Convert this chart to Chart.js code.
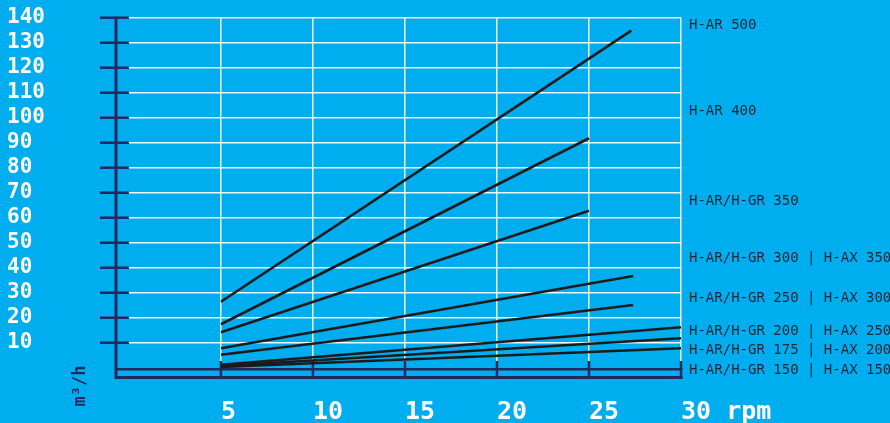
<!DOCTYPE html>
<html>
<head>
<meta charset="utf-8">
<script src="https://cdn.jsdelivr.net/npm/chart.js@4"></script>
<style>
  html, body { margin: 0; padding: 0; background: #00adef; overflow: hidden; }
  #wrap { width: 890px; height: 423px; }
</style>
</head>
<body>
<div id="wrap"><canvas id="chart" width="890" height="423"></canvas></div>
<script>
// Flow (m³/h) against speed (rpm) for each model
const models = [
    "H-AR 500",
    "H-AR 400",
    "H-AR/H-GR 350",
    "H-AR/H-GR 300 | H-AX 350",
    "H-AR/H-GR 250 | H-AX 300",
    "H-AR/H-GR 200 | H-AX 250",
    "H-AR/H-GR 175 | H-AX 200",
    "H-AR/H-GR 150 | H-AX 150"
];
const rpmStart = [5, 5, 5, 5, 5, 5, 5, 5];
const rpmEnd = [27.3, 25, 25, 27.4, 27.4, 30, 30, 30];
const flowStart = [26.4, 17.4, 14.2, 7.8, 5.2, 1.2, 0.7, 0.3];
const flowEnd = [134.8, 91.8, 62.8, 36.7, 25.1, 16.2, 11.8, 7.8];

// Where each model name sits on the right, in m³/h
const labelLevels = [137, 102.7, 66.7, 43.9, 27.8, 14.7, 7.0, -1.0];

const xTicks = [5, 10, 15, 20, 25, 30];
const yTicks = [10, 20, 30, 40, 50, 60, 70, 80, 90, 100, 110, 120, 130, 140];

const NAVY = "#23285f";
const BG = "#00adef";
const FONT = "'DejaVu Sans Mono', monospace";

const datasets = models.map((name, i) => ({
    label: name,
    data: [
        { x: rpmStart[i], y: flowStart[i] },
        { x: rpmEnd[i], y: flowEnd[i] }
    ],
    borderColor: "#1b1b1b",
    borderWidth: 2.6,
    pointRadius: 0,
    tension: 0,
    clip: false
}));

// Background, navy axes with their ticks, side labels and unit
const decor = {
    id: "decor",
    beforeDraw(chart) {
        const ctx = chart.ctx;
        ctx.save();
        ctx.fillStyle = BG;
        ctx.fillRect(0, 0, chart.width, chart.height);
        ctx.restore();
    },
    beforeDatasetsDraw(chart) {
        const { ctx, chartArea: a, scales: { x, y } } = chart;
        const line = (x1, y1, x2, y2) => {
            ctx.beginPath();
            ctx.moveTo(x1, y1);
            ctx.lineTo(x2, y2);
            ctx.stroke();
        };
        ctx.save();
        ctx.strokeStyle = NAVY;

        // y ticks run from outside the axis to x = 0
        ctx.lineWidth = 2.5;
        const x0 = x.getPixelForValue(0);
        yTicks.forEach(v => {
            const py = y.getPixelForValue(v);
            line(a.left - 16, py, x0, py);
        });

        ctx.lineWidth = 3;
        line(a.left, y.getPixelForValue(140) - 1, a.left, a.bottom);

        // double base line
        ctx.lineWidth = 2.5;
        const pb = y.getPixelForValue(-0.6);
        line(a.left, pb, a.right + 1.5, pb);
        ctx.lineWidth = 3;
        line(a.left, a.bottom - 1.5, a.right + 1.5, a.bottom - 1.5);

        ctx.lineWidth = 2.5;
        xTicks.forEach(v => {
            const px = x.getPixelForValue(v);
            line(px, a.bottom - 18, px, a.bottom);
        });
        ctx.restore();
    },
    afterDraw(chart) {
        const { ctx, chartArea: a, scales: { y } } = chart;
        ctx.save();
        ctx.fillStyle = "#1d2838";
        ctx.font = "14px " + FONT;
        ctx.textAlign = "left";
        ctx.textBaseline = "middle";
        models.forEach((name, i) => {
            ctx.fillText(name, a.right + 8, y.getPixelForValue(labelLevels[i]));
        });

        // unit label, rotated
        ctx.translate(81, 386);
        ctx.rotate(-Math.PI / 2);
        ctx.fillStyle = NAVY;
        ctx.font = "bold 17px " + FONT;
        ctx.textAlign = "center";
        ctx.fillText("m³/h", 0, 0);
        ctx.restore();
    }
};

new Chart(document.getElementById("chart"), {
    type: "line",
    data: { datasets },
    options: {
        responsive: false,
        animation: false,
        devicePixelRatio: 1,
        layout: { padding: { left: 7, top: 17.7, right: 209, bottom: 0 } },
        plugins: { legend: { display: false }, tooltip: { enabled: false } },
        scales: {
            x: {
                type: "linear",
                min: -0.7,
                max: 30,
                afterBuildTicks: scale => { scale.ticks = xTicks.map(v => ({ value: v })); },
                afterFit: scale => { scale.height = 44; },
                grid: { color: "rgba(255,255,255,0.92)", lineWidth: 1.5, drawTicks: false },
                border: { display: false },
                ticks: {
                    autoSkip: false,
                    maxRotation: 0,
                    align: "start",
                    labelOffset: 0,
                    padding: 18.5,
                    color: "#ffffff",
                    font: { family: FONT, size: 25, weight: "bold" },
                    callback: v => (v === 30 ? "30 rpm" : String(v))
                }
            },
            y: {
                min: -4.5,
                max: 140,
                afterBuildTicks: scale => { scale.ticks = yTicks.map(v => ({ value: v })); },
                afterFit: scale => { scale.width = 109; },
                grid: { color: "rgba(255,255,255,0.92)", lineWidth: 1.5, drawTicks: false },
                border: { display: false },
                ticks: {
                    autoSkip: false,
                    crossAlign: "far",
                    color: "#ffffff",
                    font: { family: FONT, size: 21, weight: "bold" },
                    callback: v => String(v)
                }
            }
        }
    },
    plugins: [decor]
});
</script>
</body>
</html>
